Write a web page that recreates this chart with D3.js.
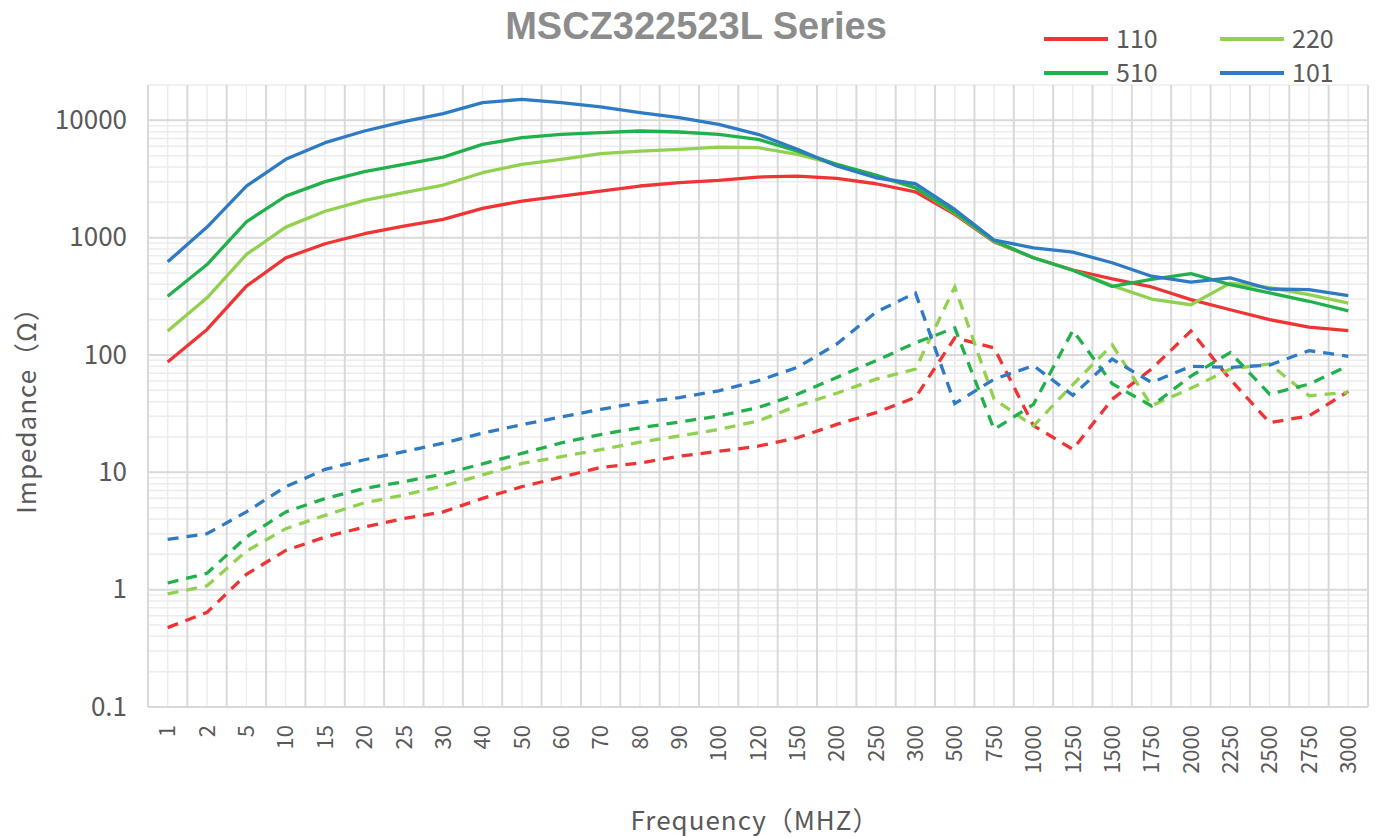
<!DOCTYPE html>
<html>
<head>
<meta charset="utf-8">
<script src="https://cdn.jsdelivr.net/npm/d3@7"></script>
<style>
body { margin: 0; background: #fff; }
svg { display: block; }
.title { font-family: "Liberation Sans", Arial, sans-serif; font-weight: bold; font-size: 38px; fill: #8c8c8c; }
.lbl { font-family: "Noto Sans CJK SC", "Noto Sans", sans-serif; fill: #595959; }
</style>
</head>
<body>
<div id="chart"></div>
<script>
// frequency categories (MHz)
var freqs = ["1","2","5","10","15","20","25","30","40","50","60","70","80","90","100","120","150","200","250","300","500","750","1000","1250","1500","1750","2000","2250","2500","2750","3000"];

// impedance |Z| (solid lines)
var z110 = [87,165,386,673,887,1080,1255,1430,1775,2050,2260,2495,2755,2940,3075,3285,3350,3200,2880,2460,1580,920,674,530,445,380,296,243,200,173,161];
var z220 = [160,307,719,1230,1680,2075,2415,2810,3575,4220,4650,5200,5470,5660,5920,5850,5130,4220,3350,2660,1620,930,674,528,390,300,268,410,375,327,277];
var z510 = [317,590,1366,2260,3000,3650,4220,4860,6240,7110,7600,7850,8110,7950,7600,6890,5470,4220,3420,2660,1640,940,674,528,384,440,494,398,338,287,238];
var z101 = [622,1230,2750,4650,6450,8110,9750,11400,14150,15100,14150,13000,11620,10530,9250,7600,5660,4080,3240,2880,1740,955,820,753,611,469,417,454,365,360,321];

// resistance R (dashed lines)
var r110 = [0.475,0.64,1.35,2.16,2.81,3.42,4.04,4.6,6.0,7.54,9.1,11,12,13.7,15.1,16.7,19.7,25.6,32.3,43.4,140,115,25,15.7,42,76,160,62,26.5,30.2,49];
var r220 = [0.92,1.08,2.13,3.31,4.3,5.5,6.4,7.64,9.5,11.9,13.6,15.6,18.1,20.4,23.2,27.4,36.8,47.2,62.2,75.9,380,42,24.8,56,122,37,52,76,84,45,48];
var r510 = [1.14,1.38,2.81,4.6,5.98,7.29,8.32,9.68,11.8,14.5,17.8,21,24,26.8,30.2,35.6,46.3,64.4,89.4,127,170,23.2,38,162,57,36.8,66,105,46.4,56.4,81];
var r101 = [2.68,3.0,4.6,7.54,10.6,12.8,15,17.7,21.6,25.5,29.6,34.4,39.3,43.4,49.4,60.3,78.4,124,232,338,38.5,62.2,81.1,45.4,92.4,58.3,80,78.4,82,109,97.5];

var names = ["110","220","510","101"];
var colors = ["#ee3434","#92d050","#22b04c","#2e7bc4"];

var series = [
  {name: names[0], color: colors[0], z: z110, r: r110},
  {name: names[1], color: colors[1], z: z220, r: r220},
  {name: names[2], color: colors[2], z: z510, r: r510},
  {name: names[3], color: colors[3], z: z101, r: r101}
];

var W = 1380, H = 838;
var margin = {top: 85, right: 12, bottom: 131, left: 148},
    width = W - margin.left - margin.right,
    height = H - margin.top - margin.bottom;

var svg = d3.select("#chart").append("svg")
    .attr("width", W)
    .attr("height", H);

var g = svg.append("g")
    .attr("transform", "translate(" + margin.left + "," + margin.top + ")");

var x = d3.scaleBand()
    .domain(freqs)
    .range([0, width])
    .padding(0);
var bw = x.bandwidth();

var y = d3.scaleLog()
    .domain([0.1, 20000])
    .range([height, 0]);

//---------------------------------------------------------------------------------
// GRID

var minorY = y.ticks().filter(function(d) { return Math.abs(Math.log10(d) - Math.round(Math.log10(d))) > 1e-6; });
var majorY = [0.1, 1, 10, 100, 1000, 10000];

g.append("g").selectAll("line")
    .data(minorY)
  .enter().append("line")
    .attr("x1", 0).attr("x2", width)
    .attr("y1", function(d) { return y(d); })
    .attr("y2", function(d) { return y(d); })
    .attr("stroke", "#ececec")
    .attr("stroke-width", 1.5);

g.append("g").selectAll("line")
    .data(freqs)
  .enter().append("line")
    .attr("x1", function(d) { return x(d) + bw / 2; })
    .attr("x2", function(d) { return x(d) + bw / 2; })
    .attr("y1", 0).attr("y2", height)
    .attr("stroke", "#ececec")
    .attr("stroke-width", 1.5);

g.append("g").selectAll("line")
    .data(majorY)
  .enter().append("line")
    .attr("x1", 0).attr("x2", width)
    .attr("y1", function(d) { return y(d); })
    .attr("y2", function(d) { return y(d); })
    .attr("stroke", "#d9d9d9")
    .attr("stroke-width", 2);

g.append("g").selectAll("line")
    .data(freqs.concat(["end"]))
  .enter().append("line")
    .attr("x1", function(d) { return d == "end" ? width : x(d); })
    .attr("x2", function(d) { return d == "end" ? width : x(d); })
    .attr("y1", 0).attr("y2", height)
    .attr("stroke", "#d9d9d9")
    .attr("stroke-width", 2);

//---------------------------------------------------------------------------------
// AXES

var yAxis = d3.axisLeft(y)
    .tickValues(majorY)
    .tickFormat(d3.format("~g"))
    .tickSize(0)
    .tickPadding(21);

var ya = g.append("g").call(yAxis);
ya.select(".domain").remove();
ya.selectAll("text")
    .attr("class", "lbl")
    .style("font-size", "26px")
    .attr("font-family", null);

var xAxis = d3.axisBottom(x).tickSize(0);

var xa = g.append("g")
    .attr("transform", "translate(0," + height + ")")
    .call(xAxis);
xa.select(".domain").remove();
xa.selectAll("text")
    .attr("class", "lbl")
    .style("font-size", "22px")
    .attr("font-family", null)
    .attr("transform", "rotate(-90)")
    .attr("text-anchor", "end")
    .attr("x", -18)
    .attr("y", 0)
    .attr("dy", "0.35em");

//---------------------------------------------------------------------------------
// LINES

var line = d3.line()
    .x(function(d, i) { return x(freqs[i]) + bw / 2; })
    .y(function(d) { return y(d); });

series.forEach(function(s) {
  g.append("path")
      .datum(s.r)
      .attr("fill", "none")
      .attr("stroke", s.color)
      .attr("stroke-width", 3.3)
      .attr("stroke-dasharray", "11,8")
      .attr("d", line);
});

series.forEach(function(s) {
  g.append("path")
      .datum(s.z)
      .attr("fill", "none")
      .attr("stroke", s.color)
      .attr("stroke-width", 3.3)
      .attr("stroke-linejoin", "round")
      .attr("d", line);
});

//---------------------------------------------------------------------------------
// TITLES + LEGEND

svg.append("text")
    .attr("class", "title")
    .attr("x", 696)
    .attr("y", 39)
    .attr("text-anchor", "middle")
    .text("MSCZ322523L Series");

svg.append("text")
    .attr("class", "lbl")
    .style("font-size", "26px")
    .style("letter-spacing", "1px")
    .attr("transform", "translate(36," + (margin.top + height / 2 + 8) + ") rotate(-90)")
    .attr("text-anchor", "middle")
    .text("Impedance（Ω）");

svg.append("text")
    .attr("class", "lbl")
    .style("font-size", "26px")
    .style("letter-spacing", "1px")
    .attr("x", 755)
    .attr("y", 830)
    .attr("text-anchor", "middle")
    .text("Frequency（MHZ）");

var legend = svg.append("g");
var leg = legend.selectAll("g")
    .data(series)
  .enter().append("g")
    .attr("transform", function(d, i) {
      return "translate(" + (1044 + (i % 2) * 176) + "," + (39 + Math.floor(i / 2) * 34) + ")";
    });

leg.append("line")
    .attr("x1", 0).attr("x2", 64)
    .attr("stroke", function(d) { return d.color; })
    .attr("stroke-width", 4);

leg.append("text")
    .attr("class", "lbl")
    .style("font-size", "25px")
    .attr("x", 72)
    .attr("dy", "0.35em")
    .text(function(d) { return d.name; });
</script>
</body>
</html>
